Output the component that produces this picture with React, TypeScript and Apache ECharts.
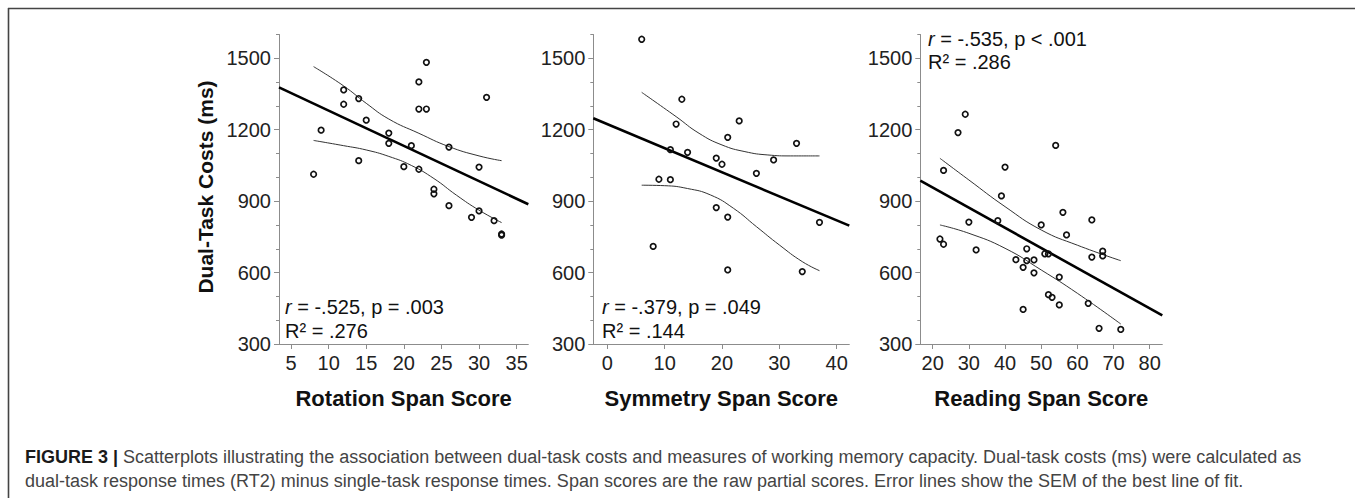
import React, { useEffect, useRef } from "react";
import * as echarts from "echarts";

// ---------- data ----------
const rotationScores = [8, 9, 12, 12, 14, 14, 15, 18, 18, 20, 21, 22, 23, 22, 23, 22, 24, 24, 26, 26, 29, 30, 30, 31, 32, 33, 33];
const rotationCosts = [1013, 1198, 1367, 1307, 1331, 1070, 1240, 1186, 1143, 1045, 1133, 1401, 1483, 1287, 1287, 1034, 950, 931, 1127, 881, 832, 1043, 859, 1336, 818, 762, 757];
const rotationFitScores = [3.4, 36.55];
const rotationFitCosts = [1378, 887];
const rotationUpperScores = [8, 12, 15, 18, 22, 26, 30, 33];
const rotationUpperCosts = [1465, 1384, 1311, 1245, 1185, 1129, 1090, 1070];
const rotationLowerScores = [8, 12, 15, 18, 21, 24, 27, 30, 33];
const rotationLowerCosts = [1155, 1133, 1115, 1088, 1050, 995, 925, 862, 810];

const symmetryScores = [6, 13, 12, 23, 21, 33, 11, 14, 19, 20, 29, 26, 9, 11, 19, 21, 37, 8, 21, 34];
const symmetryCosts = [1580, 1328, 1224, 1237, 1168, 1143, 1116, 1105, 1081, 1055, 1073, 1017, 992, 990, 873, 833, 811, 710, 611, 604];
const symmetryFitScores = [-2.44, 42.2];
const symmetryFitCosts = [1248, 797];
const symmetryUpperScores = [6, 12, 16, 20, 24, 28, 32, 37];
const symmetryUpperCosts = [1357, 1255, 1185, 1136, 1108, 1094, 1090, 1090];
const symmetryLowerScores = [6, 10, 14, 18, 22, 26, 30, 34, 37];
const symmetryLowerCosts = [967, 965, 953, 926, 870, 793, 716, 646, 608];

const readingScores = [29, 27, 23, 22, 23, 30, 32, 38, 39, 40, 43, 45, 45, 46, 46, 48, 48, 50, 51, 52, 52, 53, 54, 55, 55, 56, 57, 63, 64, 64, 66, 67, 67, 72];
const readingCosts = [1265, 1188, 1029, 741, 719, 812, 695, 818, 922, 1043, 654, 622, 445, 700, 650, 653, 599, 800, 679, 679, 507, 496, 1134, 581, 464, 853, 758, 471, 821, 665, 366, 690, 670, 361];
const readingFitScores = [16.57, 83.48];
const readingFitCosts = [986, 420];
const readingUpperScores = [22, 30, 40, 50, 60, 72];
const readingUpperCosts = [1080, 989, 877, 779, 715, 650];
const readingLowerScores = [22, 30, 40, 50, 60, 72];
const readingLowerCosts = [800, 765, 702, 611, 513, 384];

const yMajorTicks = [300, 600, 900, 1200, 1500];
const yMinorTicks = [400, 500, 700, 800, 1000, 1100, 1300, 1400, 1600];
const rotationTicks = [5, 10, 15, 20, 25, 30, 35];
const symmetryTicks = [0, 10, 20, 30, 40];
const readingTicks = [20, 30, 40, 50, 60, 70, 80];

const xTitles = ["Rotation Span Score", "Symmetry Span Score", "Reading Span Score"];
const yTitle = "Dual-Task Costs (ms)";
const statR = ["-.525, p = .003", "-.379, p = .049", "-.535, p < .001"];
const statR2 = [".276", ".144", ".286"];
const captionLabel = "FIGURE 3 |";
const captionLines = [
  "Scatterplots illustrating the association between dual-task costs and measures of working memory capacity. Dual-task costs (ms) were calculated as",
  "dual-task response times (RT2) minus single-task response times. Span scores are the raw partial scores. Error lines show the SEM of the best line of fit.",
];

const zip = (a: number[], b: number[]) => a.map((v, i) => [v, b[i]]);

const FONT = "'Liberation Sans', Arial, Helvetica, sans-serif";
const AXIS_GRAY = "#8c8c8c";

export default function App() {
  const ref = useRef<HTMLDivElement>(null);
  useEffect(() => {
    if (!ref.current) return;
    const chart = echarts.init(ref.current, undefined, { renderer: "svg" });

    const panels = [
      {
        left: 279, width: 249.3, min: 3.4, max: 36.55, ticks: rotationTicks,
        pts: zip(rotationScores, rotationCosts), fit: zip(rotationFitScores, rotationFitCosts),
        up: zip(rotationUpperScores, rotationUpperCosts), lo: zip(rotationLowerScores, rotationLowerCosts),
      },
      {
        left: 593.3, width: 256, min: -2.44, max: 42.2, ticks: symmetryTicks,
        pts: zip(symmetryScores, symmetryCosts), fit: zip(symmetryFitScores, symmetryFitCosts),
        up: zip(symmetryUpperScores, symmetryUpperCosts), lo: zip(symmetryLowerScores, symmetryLowerCosts),
      },
      {
        left: 920.3, width: 242, min: 16.57, max: 83.48, ticks: readingTicks,
        pts: zip(readingScores, readingCosts), fit: zip(readingFitScores, readingFitCosts),
        up: zip(readingUpperScores, readingUpperCosts), lo: zip(readingLowerScores, readingLowerCosts),
      },
    ];

    const grid: any[] = [];
    const xAxis: any[] = [];
    const yAxis: any[] = [];
    const series: any[] = [];
    const plain = (v: number) => String(v);

    panels.forEach((p, i) => {
      grid.push({ left: p.left, top: 34.5, width: p.width, height: 309.5, containLabel: false });
      xAxis.push({
        type: "value", gridIndex: i, min: p.min, max: p.max, position: "bottom",
        splitLine: { show: false },
        axisLine: { show: true, onZero: false, lineStyle: { color: AXIS_GRAY, width: 1 } },
        axisTick: { show: true, length: 5, customValues: p.ticks, lineStyle: { color: AXIS_GRAY } },
        axisLabel: { show: true, customValues: p.ticks, formatter: plain, margin: 9, fontSize: 20, color: "#222", fontFamily: FONT },
      });
      yAxis.push({
        type: "value", gridIndex: i, min: 300, max: 1600, position: "left",
        splitLine: { show: false },
        axisLine: { show: true, onZero: false, lineStyle: { color: AXIS_GRAY, width: 1 } },
        axisTick: { show: true, length: 5, customValues: yMajorTicks, lineStyle: { color: AXIS_GRAY } },
        axisLabel: { show: true, customValues: yMajorTicks, formatter: plain, margin: 8, fontSize: 20, color: "#222", fontFamily: FONT },
      });
      yAxis.push({
        type: "value", gridIndex: i, min: 300, max: 1600, position: "left", offset: 0,
        splitLine: { show: false },
        axisLine: { show: false, onZero: false },
        axisTick: { show: true, length: 3, customValues: yMinorTicks, lineStyle: { color: AXIS_GRAY } },
        axisLabel: { show: false },
      });
      const yi = i * 2;
      series.push({
        type: "line", xAxisIndex: i, yAxisIndex: yi, data: p.up, smooth: 0.5, showSymbol: false,
        lineStyle: { color: "#333", width: 1 }, z: 2, silent: true,
      });
      series.push({
        type: "line", xAxisIndex: i, yAxisIndex: yi, data: p.lo, smooth: 0.5, showSymbol: false,
        lineStyle: { color: "#333", width: 1 }, z: 2, silent: true,
      });
      series.push({
        type: "line", xAxisIndex: i, yAxisIndex: yi, data: p.fit, showSymbol: false,
        lineStyle: { color: "#000", width: 2.6 }, z: 3, silent: true,
      });
      series.push({
        type: "scatter", xAxisIndex: i, yAxisIndex: yi, data: p.pts, symbol: "circle", symbolSize: 5.5,
        itemStyle: { color: "rgba(255,255,255,0)", borderColor: "#111", borderWidth: 1.7, opacity: 1 }, z: 4,
      });
    });

    const statPos = [
      { x: 285, y1: 307, y2: 331 },
      { x: 602, y1: 307, y2: 331 },
      { x: 928, y1: 39, y2: 62 },
    ];

    const graphic: any[] = [
      { type: "line", shape: { x1: 8, y1: 8.5, x2: 1355, y2: 8.5 }, style: { stroke: "#444", lineWidth: 1.6 } },
      { type: "line", shape: { x1: 8.5, y1: 8, x2: 8.5, y2: 498 }, style: { stroke: "#444", lineWidth: 1.6 } },
      {
        type: "text", x: 205, y: 187, rotation: Math.PI / 2,
        style: {
          text: yTitle, font: `bold 21px ${FONT}`, fill: "#111",
          align: "center", verticalAlign: "middle", textAlign: "center", textVerticalAlign: "middle",
        },
      },
    ];
    panels.forEach((p, i) => {
      graphic.push({
        type: "text", x: p.left + p.width / 2, y: 398,
        style: {
          text: xTitles[i], font: `bold 22px ${FONT}`, fill: "#111",
          align: "center", verticalAlign: "middle", textAlign: "center", textVerticalAlign: "middle",
        },
      });
      const s = statPos[i];
      graphic.push({
        type: "text", x: s.x, y: s.y1,
        style: {
          text: `{i|r} = ${statR[i]}`, font: `20px ${FONT}`, fill: "#111",
          rich: { i: { fontStyle: "italic", fontSize: 20, fontFamily: FONT, fill: "#111" } },
          align: "left", verticalAlign: "middle", textAlign: "left", textVerticalAlign: "middle",
        },
      });
      graphic.push({
        type: "text", x: s.x, y: s.y2,
        style: {
          text: `R² = ${statR2[i]}`, font: `20px ${FONT}`, fill: "#111",
          align: "left", verticalAlign: "middle", textAlign: "left", textVerticalAlign: "middle",
        },
      });
    });
    graphic.push({
      type: "text", x: 25, y: 457,
      style: {
        text: `{b|${captionLabel}} ${captionLines[0]}`, font: `18px ${FONT}`, fill: "#444",
        rich: { b: { fontWeight: "bold", fontSize: 18, fontFamily: FONT, fill: "#1a1a1a" } },
        align: "left", verticalAlign: "middle", textAlign: "left", textVerticalAlign: "middle",
      },
    });
    graphic.push({
      type: "text", x: 25, y: 481,
      style: {
        text: captionLines[1], font: `18px ${FONT}`, fill: "#444",
        align: "left", verticalAlign: "middle", textAlign: "left", textVerticalAlign: "middle",
      },
    });

    chart.setOption({
      animation: false,
      backgroundColor: "#fff",
      grid, xAxis, yAxis, series, graphic,
    });
    return () => chart.dispose();
  }, []);

  return (
    <div
      ref={ref}
      style={{ position: "absolute", left: 0, top: 0, width: 1355, height: 498, background: "#fff" }}
    />
  );
}
